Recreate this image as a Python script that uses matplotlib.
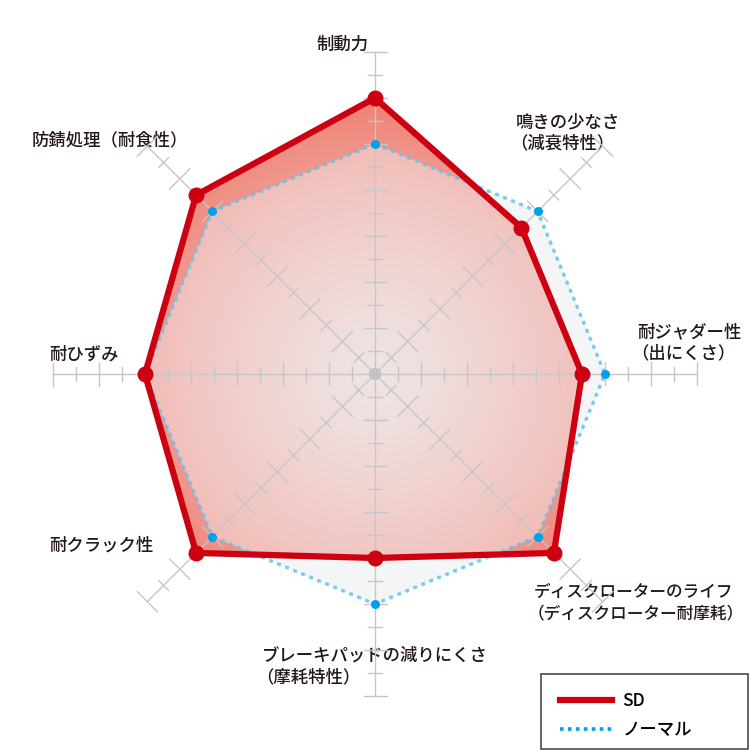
import numpy as np
import matplotlib
matplotlib.use("Agg")
import matplotlib.pyplot as plt
from matplotlib.patches import Polygon, Rectangle, Circle
from matplotlib.lines import Line2D

plt.rcParams['font.family'] = ['Noto Sans CJK JP', 'DejaVu Sans']

categories = ["制動力", "鳴きの少なさ\n（減衰特性）", "耐ジャダー性\n（出にくさ）",
              "ディスクローターのライフ\n（ディスクローター耐摩耗）",
              "ブレーキパッドの減りにくさ\n（摩耗特性）", "耐クラック性", "耐ひずみ",
              "防錆処理（耐食性）"]
sd_values = [12, 9, 9, 11, 8, 11, 10, 11]
normal_values = [10, 10, 10, 10, 10, 10, 10, 10]
series_names = ["SD", "ノーマル"]
r_max = 14

# label placement in pixels (left x, first-line centre y, alignment, size)
label_pos = [(342, 45, 'center', 12.5), (516, 122, 'left', 12.5),
             (637, 332, 'left', 12.5), (534, 592, 'left', 12.0),
             (262, 656, 'left', 12.5), (49, 546, 'left', 12.5),
             (49, 355, 'left', 12.5), (32, 140, 'left', 12.5)]
line_gap = 21

W = H = 750
px = 23.0  # pixels per unit
cx, cy = 375, 374

fig = plt.figure(figsize=(7.5, 7.5), dpi=100)
ax = fig.add_axes([0, 0, 1, 1])
ax.set_xlim(-cx / px, (W - cx) / px)
ax.set_ylim(-(H - cy) / px, cy / px)
ax.axis('off')

n = len(categories)
angles = np.pi / 2 - np.arange(n) * 2 * np.pi / n


def xy(vals):
    v = np.asarray(vals, float)
    return v * np.cos(angles), v * np.sin(angles)


sx, sy = xy(sd_values)
nx, ny = xy(normal_values)

# normal base fill
ax.add_patch(Polygon(np.c_[nx, ny], closed=True, facecolor='#f1f4f7',
                     edgecolor='none', zorder=1))

# SD gradient fill
g = np.linspace(-r_max, r_max, 600)
GX, GY = np.meshgrid(g, g)
R = np.clip(np.sqrt(GX ** 2 + GY ** 2) / 12.0, 0, 1)
c0 = np.array([234, 214, 214]) / 255
c1 = np.array([241, 128, 114]) / 255
t = R ** 1.3
img = c0[None, None, :] * (1 - t[..., None]) + c1[None, None, :] * t[..., None]
sd_poly = Polygon(np.c_[sx, sy], closed=True, facecolor='none', edgecolor='none')
ax.add_patch(sd_poly)
im = ax.imshow(img, extent=(-r_max, r_max, -r_max, r_max), origin='lower',
               zorder=2, interpolation='bilinear')
im.set_clip_path(sd_poly)

# normal overlay to lighten
ax.add_patch(Polygon(np.c_[nx, ny], closed=True, facecolor='#f6f7f9', alpha=0.42,
                     edgecolor='none', zorder=3))

# grid axes with ticks
grid_c = '#c6c6c6'
for i, a in enumerate(angles):
    ca, sa = np.cos(a), np.sin(a)
    ax.plot([0, r_max * ca], [0, r_max * sa], color=grid_c, lw=1.0, zorder=4)
    diag = (i % 2 == 1)
    for k in range(1, r_max + 1):
        if diag:
            half = 0.62 if k % 2 == 0 else 0.3
        else:
            half = 0.5 if k % 2 == 0 else 0.3
        bx, by = k * ca, k * sa
        ax.plot([bx - half * sa, bx + half * sa], [by + half * ca, by - half * ca],
                color=grid_c, lw=1.0, zorder=4)
ax.add_patch(Circle((0, 0), 0.27, facecolor='#c2c2c2', edgecolor='none', zorder=4))

# normal dotted line
ax.plot(np.r_[nx, nx[0]], np.r_[ny, ny[0]], color='#62c3ef', lw=2.4,
        linestyle=(0, (1.2, 1.4)), alpha=0.85, zorder=5, solid_capstyle='butt')

# SD line
ax.plot(np.r_[sx, sx[0]], np.r_[sy, sy[0]], color='#cc0011', lw=4.5, zorder=6,
        solid_joinstyle='miter')
ax.plot(nx, ny, 'o', color='#00a0e9', ms=6.5, mew=0, zorder=6.5)
ax.plot(sx, sy, 'o', color='#cc0011', ms=10.5, zorder=7)

# category labels
for (lx, ly, ha, fs), lab in zip(label_pos, categories):
    for j, line in enumerate(lab.split("\n")):
        off = -6 if line.startswith("（") and ha == 'left' else 0
        ax.text((lx + off) / W, 1 - (ly + j * line_gap) / H, line,
                transform=fig.transFigure, ha=ha, va='center',
                fontsize=fs, fontweight='medium', color='#231815')

# legend box
fig.patches.append(Rectangle((541 / W, 1 - 749 / H), (748 - 541) / W, (749 - 674) / H,
                             transform=fig.transFigure, facecolor='white',
                             edgecolor='#4a4a4a', lw=1.2, zorder=10))
handles = [Line2D([], [], color='#cc0011', lw=4.5),
           Line2D([], [], color='#00a0e9', lw=2.6, linestyle=(0, (1.0, 1.2)))]
leg = fig.legend(handles, series_names, loc='upper left',
                 bbox_to_anchor=(548 / W, 1 - 680 / H), frameon=False,
                 prop={'size': 12.5, 'weight': 'medium'},
                 handlelength=3.0, handletextpad=0.6,
                 labelspacing=0.65, borderpad=0.2)
leg.set_zorder(11)

fig.savefig('out.png', dpi=100)
